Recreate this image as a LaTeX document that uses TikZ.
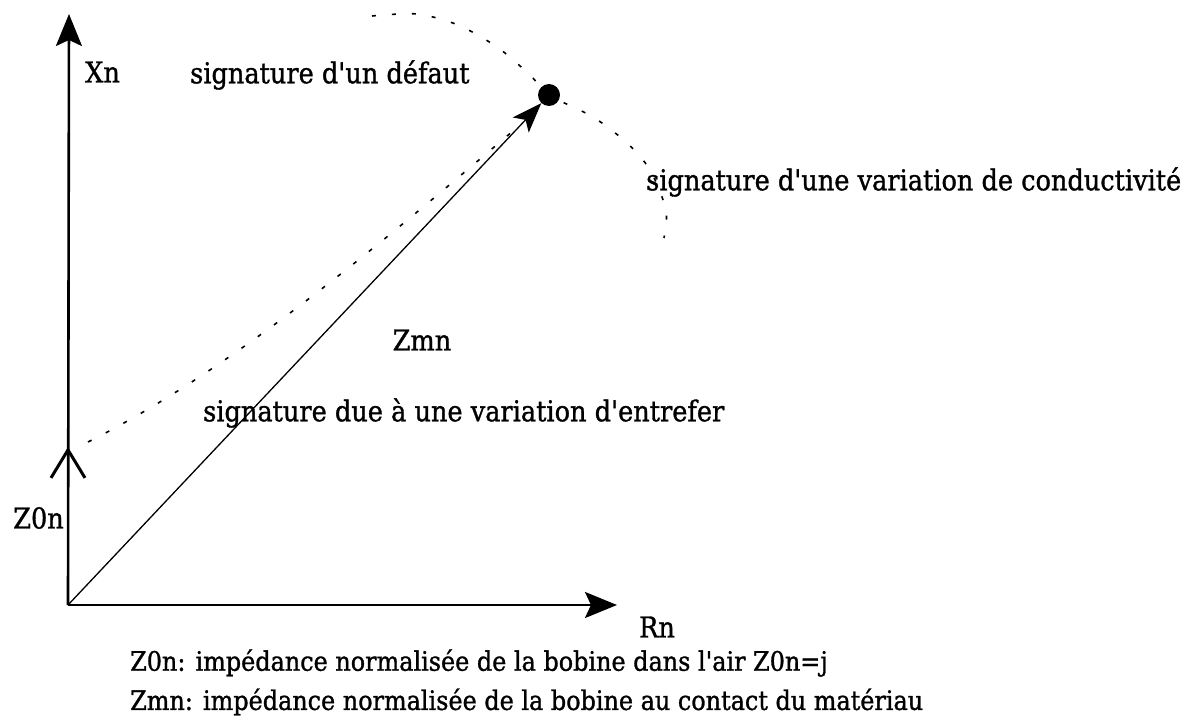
\documentclass[tikz,border=0pt]{standalone}
\usepackage{graphicx}
\usepackage{fontspec}
\setmainfont{DejaVu Serif}[Ligatures=TeXOff, FakeBold=1.2]
\usetikzlibrary{arrows.meta, positioning, calc}
\newcommand{\tallt}[1]{\scalebox{1}[1.12]{#1}}

\begin{document}
\begin{tikzpicture}[x=1pt, y=-1pt,
  lbl/.style={inner sep=0pt, font=\fontsize{25.6}{30}\selectfont},
  capline/.style={inner sep=0pt, anchor=west, font=\fontsize{23.9}{28}\selectfont},
  axis/.style={line width=2.6pt, -{Stealth[length=32pt, width=26pt, inset=6pt]}},
  sig/.style={line width=1.6pt, dash pattern=on 4pt off 16pt},
  >={Stealth[length=30pt, width=22pt, inset=7pt]}]
\useasboundingbox (0,0) rectangle (1195,722);
% axes
\coordinate (O)  at (68,605);
\coordinate (yt) at (69,14);
\coordinate (xt) at (617,605);
\coordinate (z0) at (68,447);
\draw[axis] (O) -- (yt);
\draw[axis] (O) -- (xt);
\draw[line width=2.6pt, -{Straight Barb[length=28pt, width=34pt, line width=3pt]}] (O) -- (z0);
\node[circle, fill, inner sep=0pt, minimum size=22pt] (dot) at (549,95) {};
\draw[line width=1.3pt, ->] (O) -- (dot);
% signatures
\draw[sig] (88,442) .. controls (240,366) and (400,227) .. (520,125);
\draw[sig] plot[smooth] coordinates {(372,16) (417,14) (458,25) (497,47) (530,75) (549,95) (593,117) (627,143) (650,170) (666,210) (664,238)};
% labels
\node[lbl, anchor=west] (xn)  at (85,72)   {\tallt{Xn}};
\node[lbl, anchor=east] (z0n) at (64,518)  {\tallt{Z0n}};
\node[lbl]              (rn)  at (657,627) {\tallt{Rn}};
\node[lbl]              (zmn) at (422,340) {\tallt{Zmn}};
\node[lbl, anchor=west] (sd)  at (190,75)  {\tallt{signature d'un défaut}};
\node[lbl, anchor=west] (sc)  at (646,182) {\tallt{signature d'une variation de conductivité}};
\node[lbl, anchor=west] (se)  at (203,413) {\tallt{signature due à une variation d'entrefer}};
\node[capline] (c1) at (130,663) {\tallt{Z0n: impédance normalisée de la bobine dans l'air Z0n=j}};
\node[capline] (c2) at (130,702) {\tallt{Zmn: impédance normalisée de la bobine au contact du matériau}};
\end{tikzpicture}
\end{document}
